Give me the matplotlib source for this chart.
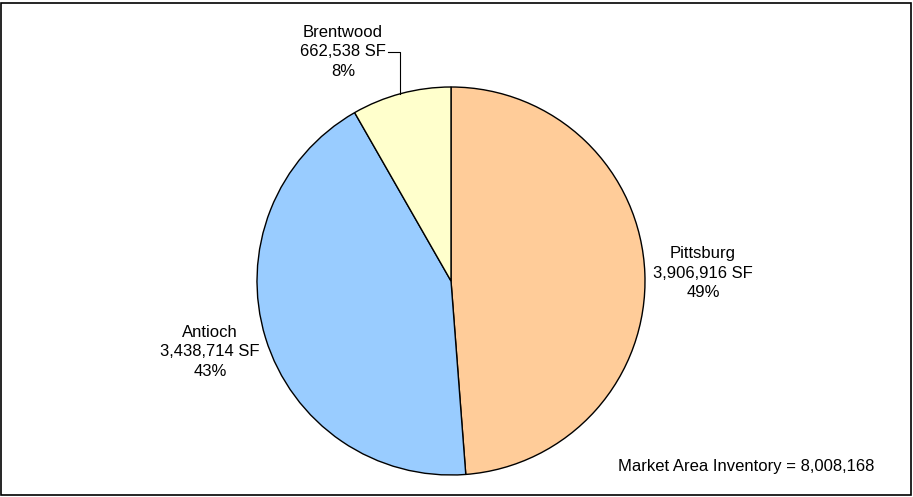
import matplotlib.pyplot as plt
from matplotlib.patches import Rectangle

plt.rcParams['font.family'] = ['Liberation Sans', 'DejaVu Sans']

# data
cities = ['Pittsburg', 'Antioch', 'Brentwood']
sqft = [3906916, 3438714, 662538]
colors = ['#FFCC99', '#99CCFF', '#FFFFCC']
total = sum(sqft)

W, H = 913, 497
fig = plt.figure(figsize=(W / 100, H / 100), dpi=100)

# pie center at (451, 281) px, radius 194 px
cx, cy, r = 451, 281, 194
ax = fig.add_axes([(cx - r) / W, (H - cy - r) / H, 2 * r / W, 2 * r / H])
ax.pie(sqft, colors=colors, startangle=90, counterclock=False, radius=1,
       wedgeprops=dict(edgecolor='black', linewidth=1.0))
ax.set_xlim(-1, 1)
ax.set_ylim(-1, 1)
ax.set_aspect('equal')
ax.axis('off')

def lbl(i):
    return '%s\n%s SF\n%d%%' % (cities[i], format(sqft[i], ','), round(100.0 * sqft[i] / total))

def px(x, y):
    return ((x - cx) / r, (cy - y) / r)

label_pos = [px(703, 273), px(210, 352), px(343, 52)]
for i in range(len(cities)):
    ax.text(label_pos[i][0], label_pos[i][1], lbl(i), ha='center', va='center',
            fontsize=12, linespacing=1.38, clip_on=False)

# leader line for Brentwood
p1 = px(388, 52)
p2 = px(400, 52)
p3 = px(400, 94)
ax.plot([p1[0], p2[0], p3[0]], [p1[1], p2[1], p3[1]], color='black', lw=0.8, clip_on=False)

fig.text(618 / W, 1 - 467 / H, 'Market Area Inventory = ' + format(total, ','),
         ha='left', va='center', fontsize=12)

fig.patches.append(Rectangle((1 / W, 2 / H), (W - 3) / W, (H - 5) / H,
                             transform=fig.transFigure, fill=False, edgecolor='black', lw=1.2))

fig.savefig('out.png', dpi=100)
